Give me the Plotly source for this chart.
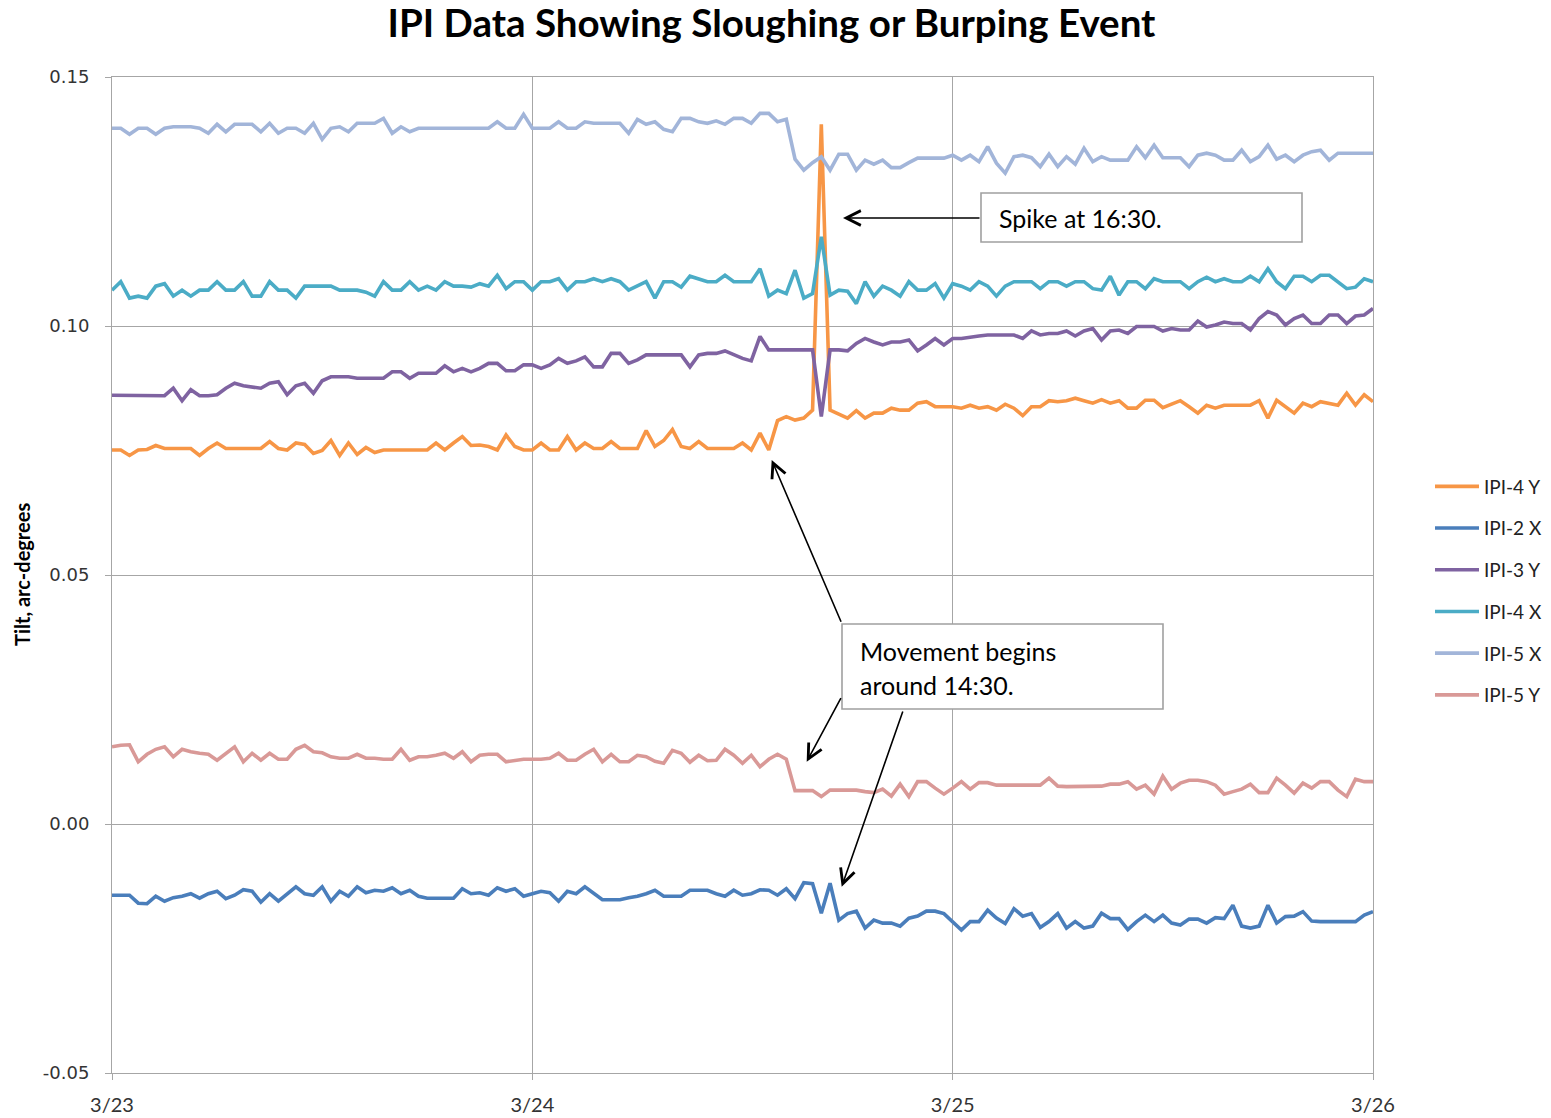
import datetime as dt
import plotly.graph_objects as go

# ---------------- data (30-minute readings starting 3/23 00:00) ----------------
start_time = dt.datetime(2014, 3, 23, 0, 0)
step_minutes = 30

series_names = ["IPI-4 Y", "IPI-2 X", "IPI-3 Y", "IPI-4 X", "IPI-5 X", "IPI-5 Y"]
series_colors = ["#f79646", "#4a7ebb", "#7f63a1", "#4bacc6", "#a2b5d9", "#d99997"]

ipi4_y = [
    0.0751, 0.0751, 0.0740, 0.0751, 0.0752, 0.0760, 0.0754, 0.0754, 0.0754, 0.0754,
    0.0740, 0.0754, 0.0765, 0.0754, 0.0754, 0.0754, 0.0754, 0.0754, 0.0768, 0.0754,
    0.0751, 0.0765, 0.0762, 0.0744, 0.0750, 0.0770, 0.0740, 0.0765, 0.0742, 0.0756,
    0.0746, 0.0751, 0.0751, 0.0751, 0.0751, 0.0751, 0.0751, 0.0765, 0.0751, 0.0765,
    0.0778, 0.0760, 0.0761, 0.0758, 0.0751, 0.0781, 0.0758, 0.0751, 0.0751,
    0.0765, 0.0751, 0.0751, 0.0778, 0.0751, 0.0765, 0.0754, 0.0754, 0.0768, 0.0754,
    0.0754, 0.0754, 0.0790, 0.0758, 0.0770, 0.0792, 0.0758, 0.0754, 0.0768, 0.0754,
    0.0754, 0.0754, 0.0754, 0.0765, 0.0751, 0.0785, 0.0751, 0.0810, 0.0818, 0.0811,
    0.0815, 0.0831, 0.1405, 0.0831, 0.0822, 0.0815, 0.0830, 0.0815, 0.0825, 0.0825,
    0.0835, 0.0831, 0.0831, 0.0845, 0.0848, 0.0838, 0.0838, 0.0838,
    0.0835, 0.0841, 0.0835, 0.0838, 0.0831, 0.0843, 0.0835, 0.0820, 0.0838, 0.0838,
    0.0850, 0.0848, 0.0850, 0.0855, 0.0850, 0.0845, 0.0852, 0.0845, 0.0850, 0.0835,
    0.0835, 0.0851, 0.0851, 0.0836, 0.0843, 0.0850, 0.0838, 0.0825, 0.0841, 0.0835,
    0.0841, 0.0841, 0.0841, 0.0841, 0.0850, 0.0815, 0.0851, 0.0838, 0.0825, 0.0845,
    0.0838, 0.0848, 0.0845, 0.0841, 0.0865, 0.0841, 0.0862, 0.0848,
]

ipi2_x = [
    -0.0143, -0.0143, -0.0143, -0.0159, -0.0160, -0.0145, -0.0155, -0.0148, -0.0145, -0.0140,
    -0.0149, -0.0140, -0.0135, -0.0150, -0.0143, -0.0132, -0.0135, -0.0157, -0.0140, -0.0155,
    -0.0140, -0.0126, -0.0140, -0.0143, -0.0126, -0.0155, -0.0135, -0.0145, -0.0126, -0.0138,
    -0.0133, -0.0135, -0.0128, -0.0140, -0.0133, -0.0145, -0.0149, -0.0149, -0.0149, -0.0149,
    -0.0130, -0.0140, -0.0138, -0.0143, -0.0128, -0.0135, -0.0130, -0.0145, -0.0140,
    -0.0135, -0.0138, -0.0155, -0.0135, -0.0140, -0.0126, -0.0138, -0.0152, -0.0152, -0.0152,
    -0.0148, -0.0145, -0.0140, -0.0133, -0.0145, -0.0145, -0.0145, -0.0133, -0.0133, -0.0133,
    -0.0140, -0.0145, -0.0133, -0.0143, -0.0140, -0.0132, -0.0133, -0.0143, -0.0130, -0.0150,
    -0.0118, -0.0120, -0.0179, -0.0119, -0.0193, -0.0180, -0.0175, -0.0209, -0.0193, -0.0199,
    -0.0199, -0.0205, -0.0189, -0.0185, -0.0175, -0.0175, -0.0180, -0.0196,
    -0.0213, -0.0196, -0.0196, -0.0173, -0.0189, -0.0200, -0.0170, -0.0185, -0.0180, -0.0208,
    -0.0196, -0.0180, -0.0209, -0.0196, -0.0209, -0.0205, -0.0179, -0.0190, -0.0190, -0.0212,
    -0.0196, -0.0183, -0.0196, -0.0183, -0.0199, -0.0203, -0.0191, -0.0191, -0.0199, -0.0188,
    -0.0190, -0.0163, -0.0205, -0.0209, -0.0205, -0.0163, -0.0199, -0.0186, -0.0185, -0.0176,
    -0.0195, -0.0196, -0.0196, -0.0196, -0.0196, -0.0196, -0.0183, -0.0176,
]

ipi3_y = [
    0.0861, 0.0861, 0.0861, 0.0861, 0.0861, 0.0860, 0.0860, 0.0875, 0.0850, 0.0872,
    0.0860, 0.0860, 0.0862, 0.0875, 0.0885, 0.0880, 0.0877, 0.0875, 0.0885, 0.0888,
    0.0862, 0.0880, 0.0885, 0.0865, 0.0890, 0.0898, 0.0898, 0.0898, 0.0895, 0.0895,
    0.0895, 0.0895, 0.0908, 0.0908, 0.0895, 0.0905, 0.0905, 0.0905, 0.0920, 0.0908,
    0.0915, 0.0908, 0.0915, 0.0925, 0.0925, 0.0910, 0.0910, 0.0922, 0.0922,
    0.0915, 0.0922, 0.0935, 0.0925, 0.0930, 0.0938, 0.0918, 0.0918, 0.0945, 0.0945,
    0.0925, 0.0932, 0.0942, 0.0942, 0.0942, 0.0942, 0.0942, 0.0918, 0.0942, 0.0945,
    0.0945, 0.0950, 0.0942, 0.0935, 0.0930, 0.0979, 0.0952, 0.0952, 0.0952, 0.0952,
    0.0952, 0.0952, 0.0818, 0.0952, 0.0952, 0.0950, 0.0965, 0.0975, 0.0968, 0.0962,
    0.0968, 0.0968, 0.0972, 0.0950, 0.0962, 0.0975, 0.0962, 0.0975,
    0.0975, 0.0978, 0.0980, 0.0982, 0.0982, 0.0982, 0.0982, 0.0975, 0.0990, 0.0982,
    0.0985, 0.0985, 0.0990, 0.0980, 0.0990, 0.0995, 0.0972, 0.0990, 0.0992, 0.0985,
    0.0999, 0.0999, 0.0999, 0.0990, 0.0995, 0.0992, 0.0992, 0.1010, 0.0998, 0.1002,
    0.1008, 0.1005, 0.1005, 0.0992, 0.1015, 0.1029, 0.1022, 0.1002, 0.1015, 0.1022,
    0.1005, 0.1005, 0.1022, 0.1022, 0.1005, 0.1020, 0.1022, 0.1035,
]

ipi4_x = [
    0.1072, 0.1089, 0.1056, 0.1060, 0.1056, 0.1080, 0.1085, 0.1060, 0.1072, 0.1060,
    0.1072, 0.1072, 0.1089, 0.1072, 0.1072, 0.1089, 0.1060, 0.1060, 0.1089, 0.1072,
    0.1072, 0.1056, 0.1080, 0.1080, 0.1080, 0.1080, 0.1072, 0.1072, 0.1072, 0.1068,
    0.1060, 0.1089, 0.1072, 0.1072, 0.1089, 0.1072, 0.1080, 0.1072, 0.1089, 0.1080,
    0.1080, 0.1078, 0.1085, 0.1080, 0.1102, 0.1075, 0.1089, 0.1089, 0.1072,
    0.1089, 0.1089, 0.1095, 0.1072, 0.1089, 0.1089, 0.1095, 0.1089, 0.1095, 0.1089,
    0.1072, 0.1080, 0.1089, 0.1056, 0.1089, 0.1089, 0.1078, 0.1100, 0.1095, 0.1089,
    0.1089, 0.1102, 0.1089, 0.1089, 0.1089, 0.1115, 0.1060, 0.1072, 0.1065, 0.1112,
    0.1056, 0.1065, 0.1179, 0.1062, 0.1072, 0.1070, 0.1045, 0.1089, 0.1060, 0.1080,
    0.1072, 0.1060, 0.1089, 0.1072, 0.1072, 0.1085, 0.1056, 0.1085,
    0.1080, 0.1072, 0.1089, 0.1080, 0.1060, 0.1080, 0.1089, 0.1089, 0.1089, 0.1075,
    0.1089, 0.1089, 0.1080, 0.1089, 0.1089, 0.1075, 0.1072, 0.1100, 0.1062, 0.1089,
    0.1089, 0.1075, 0.1095, 0.1089, 0.1089, 0.1089, 0.1075, 0.1089, 0.1098, 0.1089,
    0.1095, 0.1089, 0.1089, 0.1100, 0.1089, 0.1115, 0.1089, 0.1075, 0.1100, 0.1100,
    0.1089, 0.1102, 0.1102, 0.1089, 0.1075, 0.1078, 0.1095, 0.1089,
]

ipi5_x = [
    0.1397, 0.1397, 0.1385, 0.1397, 0.1397, 0.1385, 0.1397, 0.1400, 0.1400, 0.1400,
    0.1397, 0.1387, 0.1405, 0.1390, 0.1405, 0.1405, 0.1405, 0.1390, 0.1407, 0.1387,
    0.1397, 0.1397, 0.1387, 0.1407, 0.1375, 0.1397, 0.1400, 0.1390, 0.1407, 0.1407,
    0.1407, 0.1417, 0.1387, 0.1400, 0.1390, 0.1397, 0.1397, 0.1397, 0.1397, 0.1397,
    0.1397, 0.1397, 0.1397, 0.1397, 0.1410, 0.1397, 0.1397, 0.1425, 0.1397,
    0.1397, 0.1397, 0.1410, 0.1397, 0.1397, 0.1410, 0.1407, 0.1407, 0.1407, 0.1407,
    0.1387, 0.1415, 0.1405, 0.1410, 0.1395, 0.1390, 0.1417, 0.1417, 0.1410, 0.1407,
    0.1412, 0.1405, 0.1417, 0.1417, 0.1407, 0.1427, 0.1427, 0.1410, 0.1415, 0.1335,
    0.1313, 0.1328, 0.1340, 0.1313, 0.1345, 0.1345, 0.1313, 0.1333, 0.1325, 0.1333,
    0.1318, 0.1318, 0.1328, 0.1337, 0.1337, 0.1337, 0.1337, 0.1343,
    0.1333, 0.1343, 0.1330, 0.1360, 0.1327, 0.1307, 0.1340, 0.1343, 0.1338, 0.1320,
    0.1345, 0.1320, 0.1340, 0.1325, 0.1357, 0.1330, 0.1340, 0.1333, 0.1333, 0.1333,
    0.1360, 0.1338, 0.1363, 0.1338, 0.1338, 0.1338, 0.1320, 0.1343, 0.1347, 0.1343,
    0.1333, 0.1333, 0.1353, 0.1330, 0.1340, 0.1363, 0.1335, 0.1343, 0.1330, 0.1343,
    0.1350, 0.1353, 0.1333, 0.1347, 0.1347, 0.1347, 0.1347, 0.1347,
]

ipi5_y = [
    0.0155, 0.0158, 0.0159, 0.0125, 0.0140, 0.0150, 0.0155, 0.0135, 0.0150, 0.0145,
    0.0142, 0.0140, 0.0128, 0.0142, 0.0155, 0.0125, 0.0142, 0.0128, 0.0142, 0.0130,
    0.0130, 0.0150, 0.0158, 0.0145, 0.0143, 0.0135, 0.0132, 0.0132, 0.0140, 0.0132,
    0.0132, 0.0130, 0.0130, 0.0150, 0.0128, 0.0135, 0.0135, 0.0138, 0.0142, 0.0132,
    0.0145, 0.0125, 0.0138, 0.0140, 0.0140, 0.0125, 0.0128, 0.0130, 0.0130,
    0.0130, 0.0132, 0.0142, 0.0128, 0.0128, 0.0140, 0.0150, 0.0125, 0.0140, 0.0125,
    0.0125, 0.0138, 0.0135, 0.0126, 0.0122, 0.0148, 0.0142, 0.0124, 0.0138, 0.0127,
    0.0128, 0.0150, 0.0138, 0.0122, 0.0138, 0.0115, 0.0130, 0.0140, 0.0130, 0.0067,
    0.0067, 0.0067, 0.0055, 0.0068, 0.0068, 0.0068, 0.0068, 0.0065, 0.0063, 0.0070,
    0.0056, 0.0080, 0.0055, 0.0085, 0.0085, 0.0072, 0.0060, 0.0072,
    0.0085, 0.0070, 0.0083, 0.0083, 0.0078, 0.0078, 0.0078, 0.0078, 0.0078, 0.0078,
    0.0092, 0.0076, 0.0075, 0.0075, 0.0075, 0.0075, 0.0076, 0.0080, 0.0080, 0.0085,
    0.0070, 0.0078, 0.0060, 0.0096, 0.0070, 0.0082, 0.0088, 0.0088, 0.0085, 0.0078,
    0.0060, 0.0065, 0.0070, 0.0080, 0.0063, 0.0063, 0.0092, 0.0078, 0.0062, 0.0082,
    0.0072, 0.0085, 0.0085, 0.0068, 0.0055, 0.0090, 0.0085, 0.0085,
]

x_tick_vals = ["2014-03-23", "2014-03-24", "2014-03-25", "2014-03-26"]
x_tick_text = ["3/23", "3/24", "3/25", "3/26"]
y_tick_vals = [-0.05, 0.0, 0.05, 0.10, 0.15]
y_tick_text = ["-0.05", "0.00", "0.05", "0.10", "0.15"]

all_series = [ipi4_y, ipi2_x, ipi3_y, ipi4_x, ipi5_x, ipi5_y]


def times_for(values):
    return [start_time + dt.timedelta(minutes=step_minutes * i) for i in range(len(values))]


# ---------------- figure ----------------
W, H = 1551, 1118
L, R, T, B = 112, 1373, 77, 1073  # plot area in pixels


def px(xpix):
    return (xpix - L) / (R - L)


def py(ypix):
    return (B - ypix) / (B - T)


fig = go.Figure()
for i, (name, vals, col) in enumerate(zip(series_names, all_series, series_colors)):
    fig.add_trace(go.Scatter(
        x=times_for(vals), y=vals, name=name, mode="lines",
        line=dict(color=col, width=3.6), legendgroup=f"g{i}",
    ))

grid = "#a6a6a6"
fig.update_layout(
    width=W, height=H,
    margin=dict(l=L, r=W - R, t=T, b=H - B, pad=0, autoexpand=False),
    plot_bgcolor="white", paper_bgcolor="white",
    title=dict(text="<b>IPI Data Showing Sloughing or Burping Event</b>",
               x=771.5 / W, xanchor="center", y=1 - 24 / H, yanchor="middle",
               font=dict(family="Lato", size=38.5, color="black")),
    showlegend=True,
    legend=dict(x=px(1430), xanchor="left", y=py(591), yanchor="middle",
                font=dict(family="Lato", size=19, color="#222222"),
                tracegroupgap=14, itemwidth=44, bgcolor="rgba(0,0,0,0)", borderwidth=0),
    xaxis=dict(
        type="date", range=[x_tick_vals[0], x_tick_vals[-1]],
        tickvals=x_tick_vals, ticktext=x_tick_text,
        tickfont=dict(family="Lato", size=20, color="#333333"),
        showgrid=True, gridcolor=grid, gridwidth=1,
        showline=True, linecolor=grid, linewidth=1, mirror=True,
        ticks="outside", ticklen=6, tickcolor=grid, zeroline=False,
        ticklabelstandoff=8, automargin=False,
    ),
    yaxis=dict(
        range=[-0.05, 0.15], tickvals=y_tick_vals, ticktext=y_tick_text,
        tickfont=dict(family="DejaVu Sans", size=18, color="#333333"),
        showgrid=True, gridcolor=grid, gridwidth=1,
        showline=True, linecolor=grid, linewidth=1, mirror=True,
        ticks="outside", ticklen=6, tickcolor=grid, zeroline=False,
        ticklabelstandoff=12, automargin=False,
    ),
)

# y-axis title
fig.add_annotation(x=px(22), y=0.5, xref="paper", yref="paper", text="<b>Tilt, arc-degrees</b>",
                   textangle=-90, showarrow=False, xanchor="center", yanchor="middle",
                   font=dict(family="Lato", size=20, color="black"))

# callout boxes
box_line = dict(color="#a0a0a0", width=1.6)
fig.add_shape(type="rect", xref="paper", yref="paper", x0=px(981), x1=px(1302), y0=py(242), y1=py(193),
              line=box_line, fillcolor="white", layer="above")
fig.add_shape(type="rect", xref="paper", yref="paper", x0=px(842), x1=px(1163), y0=py(709), y1=py(624),
              line=box_line, fillcolor="white", layer="above")

txt_font = dict(family="Lato", size=25, color="black")
fig.add_annotation(x=px(997), y=py(218), xref="paper", yref="paper", text="Spike at 16:30.",
                   showarrow=False, xanchor="left", yanchor="middle", font=txt_font)
fig.add_annotation(x=px(858), y=py(651), xref="paper", yref="paper", text="Movement begins",
                   showarrow=False, xanchor="left", yanchor="middle", font=txt_font)
fig.add_annotation(x=px(858), y=py(685), xref="paper", yref="paper", text="around 14:30.",
                   showarrow=False, xanchor="left", yanchor="middle", font=txt_font)

# arrows: (tip_x, tip_y, tail_x, tail_y) in pixels
arrows = [
    (843, 218, 981, 218),
    (771.7, 460, 841.7, 623.3),
    (806.7, 761.7, 841.7, 696.7),
    (841.7, 886.7, 903.3, 710),
]
for tx, ty, sx, sy in arrows:
    fig.add_annotation(x=px(tx), y=py(ty), xref="paper", yref="paper", text="",
                       showarrow=True, ax=sx - tx, ay=sy - ty, axref="pixel", ayref="pixel",
                       arrowhead=5, arrowsize=1.8, arrowwidth=1.6, arrowcolor="black", standoff=0)

fig.write_html("out.html")
